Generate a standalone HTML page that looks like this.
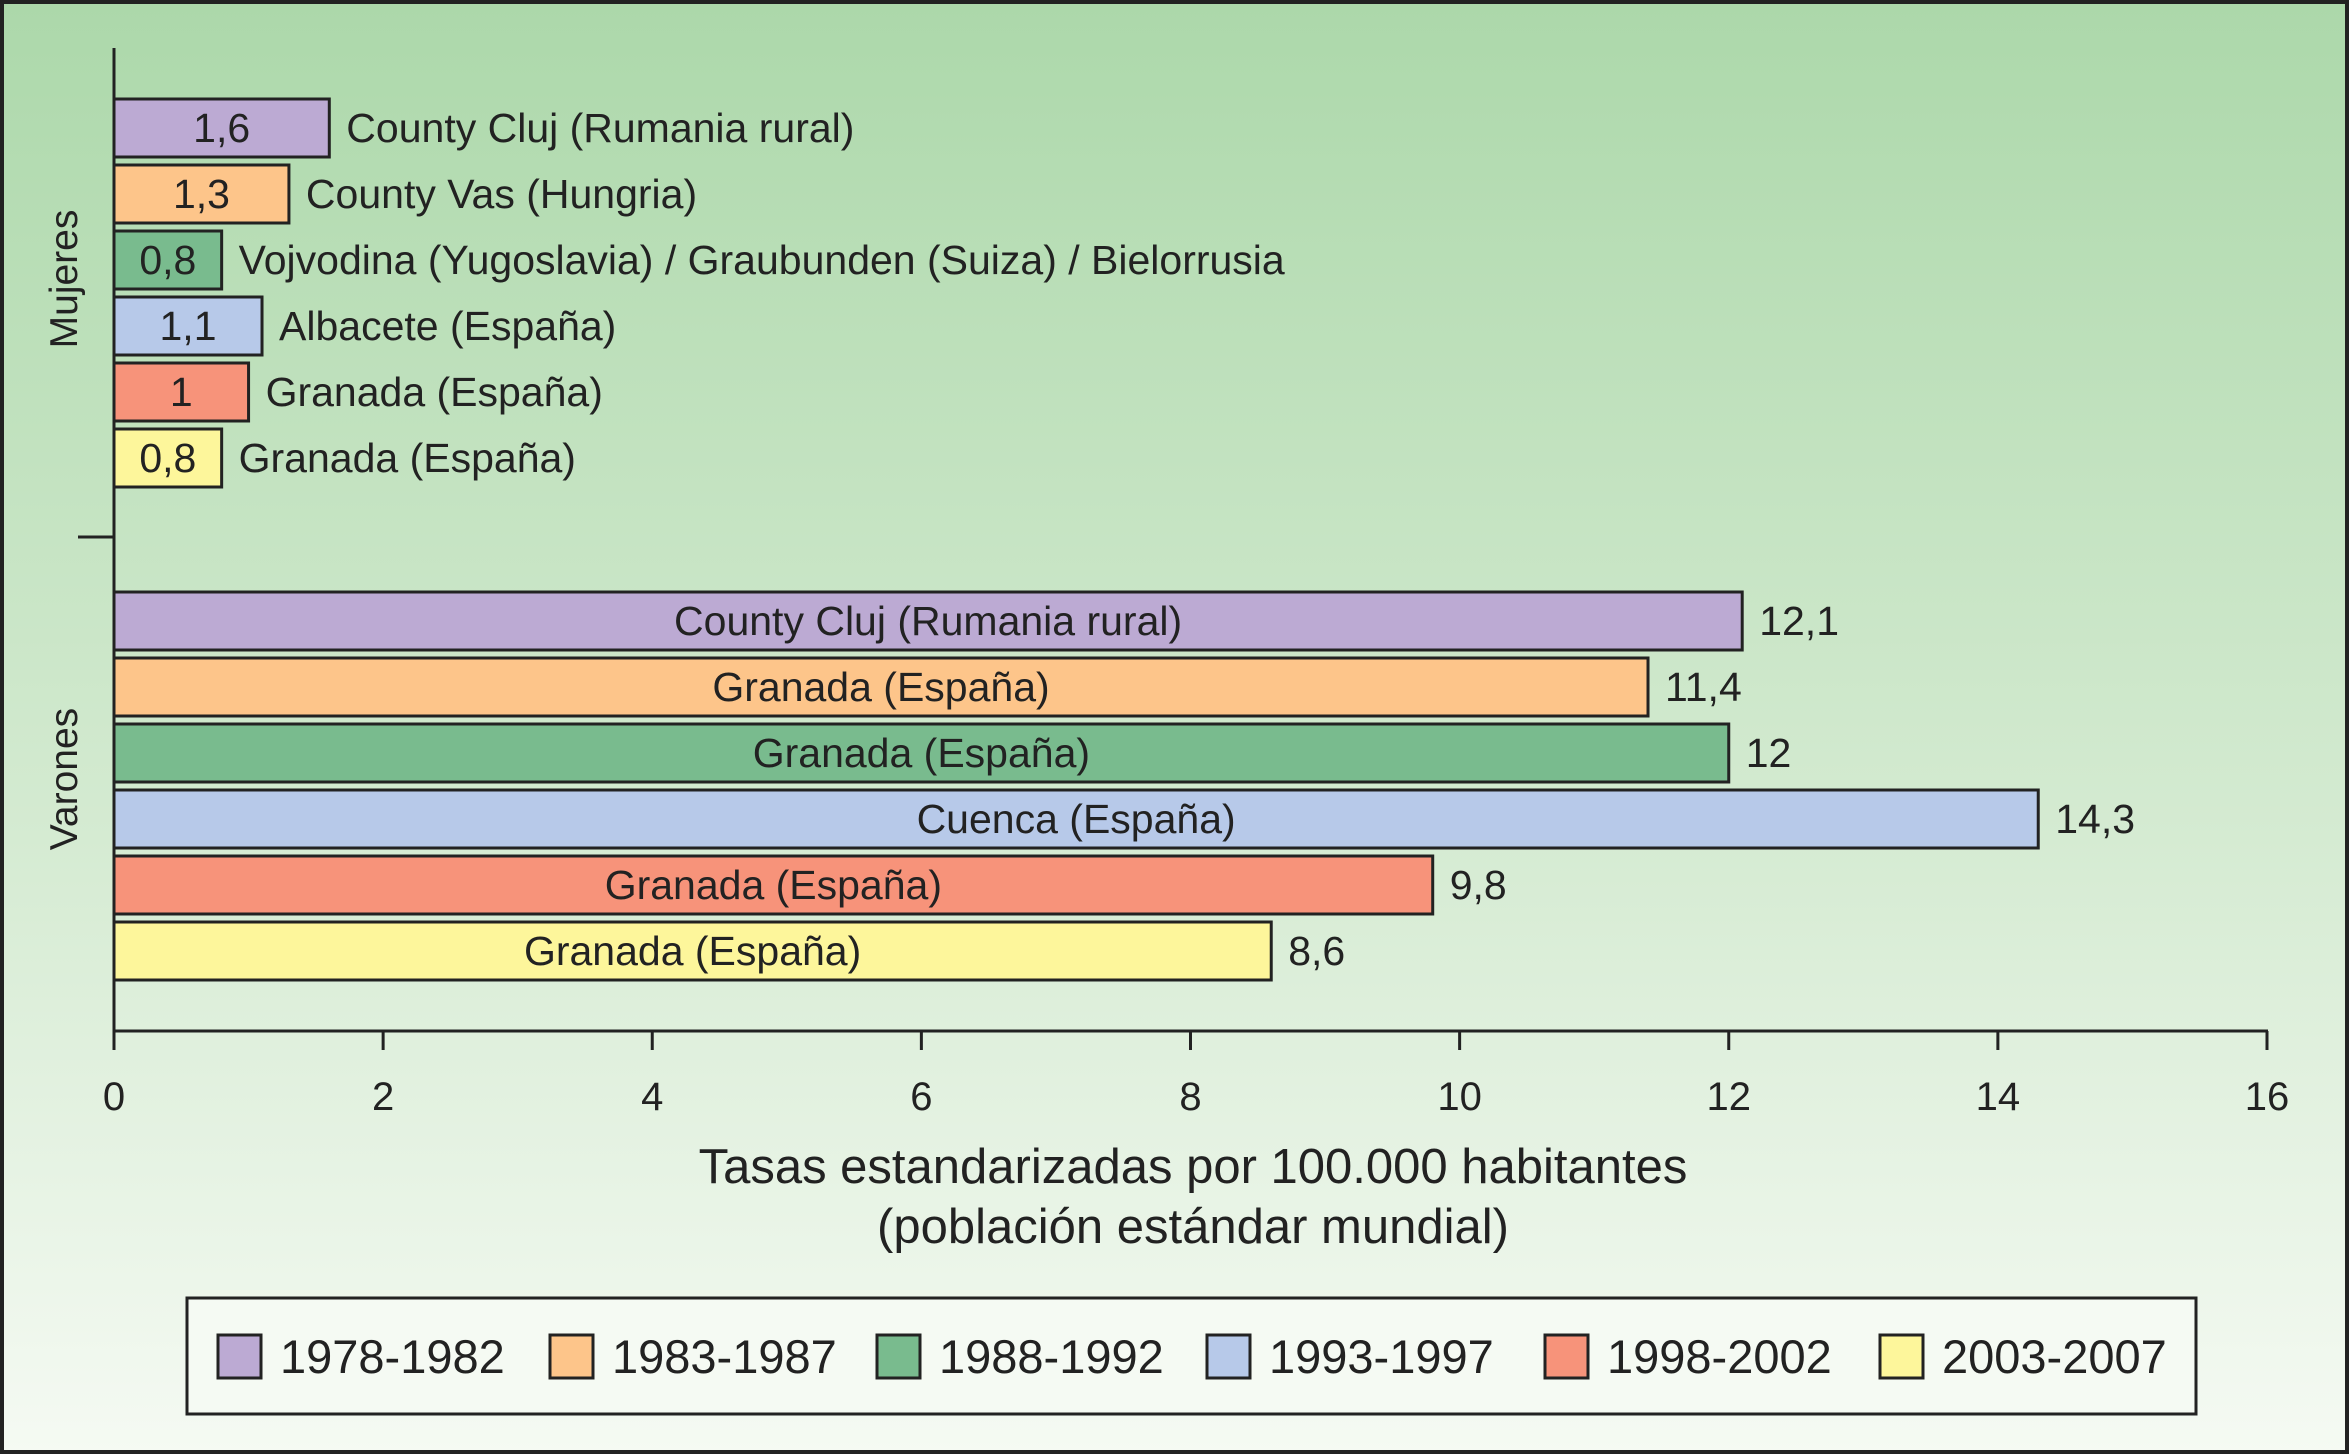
<!DOCTYPE html>
<html><head><meta charset="utf-8"><style>
html,body{margin:0;padding:0;width:2349px;height:1454px;overflow:hidden}
svg{display:block;font-family:"Liberation Sans",sans-serif}
</style></head><body>
<svg id="chart" width="2349" height="1454" viewBox="0 0 2349 1454">
<defs><linearGradient id="bg" x1="0" y1="0" x2="0" y2="1"><stop offset="0" stop-color="#acd8aa"/><stop offset="0.55" stop-color="#d3ead0"/><stop offset="1" stop-color="#f5faf3"/></linearGradient></defs>
<rect x="2" y="2" width="2345" height="1450" fill="url(#bg)" stroke="#222" stroke-width="4"/>
<g id="plot"></g>
</svg>
<script>
const colors=["#bcaad3","#fdc58a","#79bb8e","#b7c9e9","#f7937a","#fdf69b"];
const periods=["1978-1982","1983-1987","1988-1992","1993-1997","1998-2002","2003-2007"];
const mujeresValues=[1.6,1.3,0.8,1.1,1,0.8];
const mujeresLabels=["1,6","1,3","0,8","1,1","1","0,8"];
const mujeresNames=["County Cluj (Rumania rural)","County Vas (Hungria)","Vojvodina (Yugoslavia) / Graubunden (Suiza) / Bielorrusia","Albacete (España)","Granada (España)","Granada (España)"];
const varonesValues=[12.1,11.4,12,14.3,9.8,8.6];
const varonesLabels=["12,1","11,4","12","14,3","9,8","8,6"];
const varonesNames=["County Cluj (Rumania rural)","Granada (España)","Granada (España)","Cuenca (España)","Granada (España)","Granada (España)"];
const xTicks=[0,2,4,6,8,10,12,14,16];

const NS="http://www.w3.org/2000/svg";
const g=document.getElementById('plot');
const x0=114,x1=2267,xMax=16;
const X=v=>x0+(x1-x0)*v/xMax;
function el(tag,attrs,text){const e=document.createElementNS(NS,tag);for(const k in attrs)e.setAttribute(k,attrs[k]);if(text!==undefined)e.textContent=text;g.appendChild(e);return e;}
const fs=41,barH=58;
function drawGroup(values,labels,names,top,inside,grp){
  values.forEach((v,i)=>{
    const y=top+i*66;
    const r=el('rect',{x:x0,y:y,width:X(v)-x0,height:barH,fill:colors[i],stroke:"#222","stroke-width":3});
    
    
    const cy=y+barH/2+14;
    if(inside==='value'){
      const t=el('text',{x:(x0+X(v))/2,y:cy,"font-size":fs,"text-anchor":"middle",fill:"#222"},labels[i]);
      
      
      const n=el('text',{x:X(v)+17,y:cy,"font-size":fs,fill:"#222"},names[i]);
      
      
    }else{
      const n=el('text',{x:(x0+X(v))/2,y:cy,"font-size":fs,"text-anchor":"middle",fill:"#222"},names[i]);
      
      
      const t=el('text',{x:X(v)+17,y:cy,"font-size":fs,fill:"#222"},labels[i]);
      
      
    }
  });
}
drawGroup(mujeresValues,mujeresLabels,mujeresNames,99,'value','mujeres');
drawGroup(varonesValues,varonesLabels,varonesNames,592,'name','varones');

let a=el('line',{x1:x0,y1:48,x2:x0,y2:1033,stroke:"#222","stroke-width":3});

a=el('line',{x1:78,y1:537,x2:x0,y2:537,stroke:"#222","stroke-width":3});

a=el('line',{x1:x0,y1:1031,x2:x1+1,y2:1031,stroke:"#222","stroke-width":3});

xTicks.forEach(t=>{
  const l=el('line',{x1:X(t),y1:1031,x2:X(t),y2:1050,stroke:"#222","stroke-width":3});
  
  const tx=el('text',{x:X(t),y:1110,"font-size":40,"text-anchor":"middle",fill:"#222"},String(t));
  
});
let t=el('text',{x:1193,y:1183,"font-size":49,"text-anchor":"middle",fill:"#222"},"Tasas estandarizadas por 100.000 habitantes");

t=el('text',{x:1193,y:1243,"font-size":49,"text-anchor":"middle",fill:"#222"},"(población estándar mundial)");

t=el('text',{x:0,y:0,"font-size":39,"text-anchor":"middle",fill:"#222",transform:"translate(77,279) rotate(-90)"},"Mujeres");

t=el('text',{x:0,y:0,"font-size":39,"text-anchor":"middle",fill:"#222",transform:"translate(77,779) rotate(-90)"},"Varones");


const lg=el('rect',{x:187,y:1298,width:2009,height:116,fill:"#f5faf3",stroke:"#222","stroke-width":3});

const sw=[218,550,877,1207,1545,1880];
periods.forEach((p,i)=>{
  const r=el('rect',{x:sw[i],y:1335,width:43,height:43,fill:colors[i],stroke:"#222","stroke-width":3});
  
  const tx=el('text',{x:sw[i]+62,y:1373,"font-size":47,fill:"#222"},p);
  
});
</script>
</body></html>
